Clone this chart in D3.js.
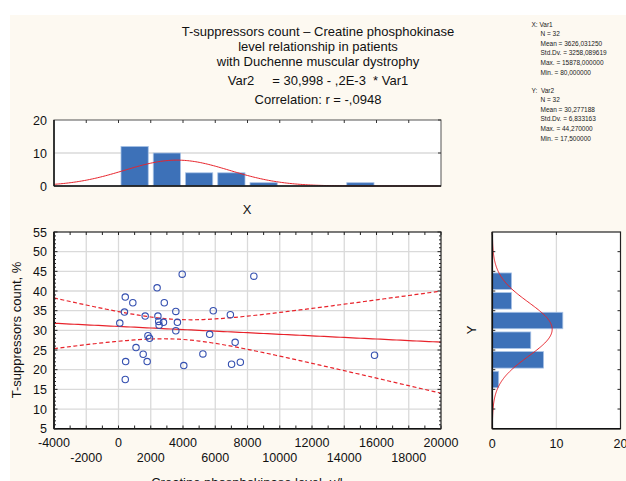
<!DOCTYPE html>
<html>
<head>
<meta charset="utf-8">
<script src="https://cdn.jsdelivr.net/npm/d3@7"></script>
<style>
  html, body { margin: 0; padding: 0; background: #ffffff; }
  svg { display: block; font-family: "Liberation Sans", Arial, sans-serif; }
</style>
</head>
<body>
<svg id="chart" width="626" height="481"></svg>
<script>
// Creatine phosphokinase level (u/l) per patient
const cpk = [3950, 8394, 2394, 419, 888, 2839, 370, 1654, 2444, 3555, 5876, 6937,
             80, 2493, 2518, 2789, 3653, 3555, 5654, 1827, 1926, 7234, 1086, 1530,
             5234, 444, 1777, 7555, 7012, 4049, 15878, 419];
// T-suppressors count, % per patient
const tsup = [44.27, 43.77, 40.81, 38.45, 37.01, 37.01, 34.65, 33.63, 33.63, 34.81, 34.98, 33.97,
              31.86, 32.28, 31.27, 32.03, 32.03, 29.9, 28.99, 28.65, 27.97, 26.96, 25.61, 23.92,
              24.0, 22.06, 22.06, 21.89, 21.38, 21.05, 23.67, 17.5];

const titleLines = [
  "T-suppressors count \u2013 Creatine phosphokinase",
  "level relationship in patients",
  "with Duchenne muscular dystrophy",
  "Var2     = 30,998 - ,2E-3  * Var1",
  "Correlation: r = -,0948"
];
const statsX = ["X: Var1", "N = 32", "Mean = 3626,031250", "Std.Dv. = 3258,089619", "Max. = 15878,000000", "Min. = 80,000000"];
const statsY = ["Y:  Var2", "N = 32", "Mean = 30,277188", "Std.Dv. = 6,833163", "Max. = 44,270000", "Min. = 17,500000"];

// regression summary
const nObs = 32, meanX = 3626.03125, sdX = 3258.089619, meanY = 30.277188, sdY = 6.833163, rCorr = -0.0948;
const intercept = 30.998, slope = -0.0002, tCrit = 2.042;

const xTicksRow1 = [-4000, 0, 4000, 8000, 12000, 16000, 20000];
const xTicksRow2 = [-2000, 2000, 6000, 10000, 14000, 18000];
const yTicks = [5, 10, 15, 20, 25, 30, 35, 40, 45, 50, 55];
const histXTicks = [0, 10, 20];
const histCountTicks = [0, 10, 20];

const svg = d3.select("#chart");
const RED = "#e8232b", BLUE = "#3d71b8", PT = "#3550b0", GRID = "#dadada";

svg.append("rect").attr("x", 10).attr("y", 15).attr("width", 616).attr("height", 466).attr("fill", "#fdf9f1");

// scales
const x = d3.scaleLinear().domain([-4000, 20000]).range([54, 441]);
const y = d3.scaleLinear().domain([5, 55]).range([428.7, 232]);
const yTop = d3.scaleLinear().domain([0, 20]).range([186, 120]);
const xRight = d3.scaleLinear().domain([0, 20]).range([492.3, 620.5]);

// ---------- title ----------
const titleY = [36, 51, 66, 85, 104];
svg.selectAll("text.title").data(titleLines).join("text")
  .attr("class", "title").attr("x", 318).attr("y", (d, i) => titleY[i])
  .attr("text-anchor", "middle").attr("font-size", 13).attr("fill", "#111")
  .attr("xml:space", "preserve").text(d => d);

function statsBlock(lines, y0) {
  lines.forEach((t, i) => {
    svg.append("text").attr("x", i === 0 ? 531.5 : 540.5).attr("y", y0 + i * 9.6)
      .attr("font-size", 6.5).attr("fill", "#1a1a1a").attr("xml:space", "preserve").text(t);
  });
}
statsBlock(statsX, 26.5);
statsBlock(statsY, 92.5);

// ---------- top histogram (X) ----------
svg.append("rect").attr("x", 54).attr("y", 120).attr("width", 387).attr("height", 66).attr("fill", "#fff");
svg.append("line").attr("x1", 54).attr("x2", 441).attr("y1", yTop(10)).attr("y2", yTop(10))
  .attr("stroke", GRID).attr("stroke-width", 1.6);
const binsX = d3.bin().domain([-4000, 20000]).thresholds(d3.range(-4000, 20000, 2000))(cpk);
svg.append("g").selectAll("rect").data(binsX.filter(b => b.length > 0)).join("rect")
  .attr("x", b => x(b.x0) + 2.5).attr("width", b => x(b.x1) - x(b.x0) - 5)
  .attr("y", b => yTop(b.length)).attr("height", b => yTop(0) - yTop(b.length))
  .attr("fill", BLUE).attr("stroke", "#a9c3e6").attr("stroke-width", 0.8);
const normX = v => nObs * 2000 * Math.exp(-0.5 * ((v - meanX) / sdX) ** 2) / (sdX * Math.sqrt(2 * Math.PI));
svg.append("path").datum(d3.range(-4000, 20001, 100))
  .attr("d", d3.line().x(v => x(v)).y(v => yTop(normX(v))))
  .attr("fill", "none").attr("stroke", RED).attr("stroke-width", 1);
// frame and ticks
svg.append("rect").attr("x", 54).attr("y", 120).attr("width", 387).attr("height", 66)
  .attr("fill", "none").attr("stroke", "#555").attr("stroke-width", 1);
svg.append("line").attr("x1", 54).attr("x2", 441).attr("y1", 186).attr("y2", 186).attr("stroke", "#111").attr("stroke-width", 1.5);
svg.append("line").attr("x1", 54).attr("x2", 54).attr("y1", 120).attr("y2", 186).attr("stroke", "#111").attr("stroke-width", 1.5);
svg.append("g").selectAll("line").data(d3.range(-2000, 20000, 2000)).join("line")
  .attr("x1", d => x(d)).attr("x2", d => x(d)).attr("y1", 120).attr("y2", 123).attr("stroke", "#333");
svg.append("g").selectAll("line").data(histCountTicks).join("line")
  .attr("x1", 438).attr("x2", 441).attr("y1", d => yTop(d)).attr("y2", d => yTop(d)).attr("stroke", "#333");
svg.append("g").selectAll("text").data(histCountTicks).join("text")
  .attr("x", 47).attr("y", d => yTop(d) + 4.5).attr("text-anchor", "end")
  .attr("font-size", 12.5).attr("fill", "#111").text(d => d);
svg.append("text").attr("x", 247).attr("y", 214).attr("text-anchor", "middle")
  .attr("font-size", 13).attr("fill", "#111").text("X");

// ---------- main scatter ----------
svg.append("rect").attr("x", 54).attr("y", 232).attr("width", 387).attr("height", 196.7).attr("fill", "#fff");
svg.append("g").selectAll("line").data(d3.range(-2000, 20000, 2000)).join("line")
  .attr("x1", d => x(d)).attr("x2", d => x(d)).attr("y1", 232).attr("y2", 428.7)
  .attr("stroke", GRID).attr("stroke-width", 1.3);
svg.append("g").selectAll("line").data(d3.range(10, 55, 5)).join("line")
  .attr("x1", 54).attr("x2", 441).attr("y1", d => y(d)).attr("y2", d => y(d))
  .attr("stroke", GRID).attr("stroke-width", 1.3);

// regression line and 95% confidence band
const sRes = sdY * Math.sqrt(1 - rCorr * rCorr) * Math.sqrt((nObs - 1) / (nObs - 2));
const sxx = (nObs - 1) * sdX * sdX;
const fit = v => intercept + slope * v;
const half = v => tCrit * sRes * Math.sqrt(1 / nObs + (v - meanX) ** 2 / sxx);
const xs = d3.range(-4000, 20001, 250);
svg.append("path").datum(xs).attr("d", d3.line().x(v => x(v)).y(v => y(fit(v))))
  .attr("fill", "none").attr("stroke", RED).attr("stroke-width", 1.2);
[1, -1].forEach(sgn => {
  svg.append("path").datum(xs).attr("d", d3.line().x(v => x(v)).y(v => y(fit(v) + sgn * half(v))))
    .attr("fill", "none").attr("stroke", RED).attr("stroke-width", 1.2).attr("stroke-dasharray", "4,2.5");
});

svg.append("g").selectAll("circle").data(cpk.map((v, i) => [v, tsup[i]])).join("circle")
  .attr("cx", d => x(d[0])).attr("cy", d => y(d[1])).attr("r", 3.2)
  .attr("fill", "none").attr("stroke", PT).attr("stroke-width", 1.1);

// frame
svg.append("rect").attr("x", 54).attr("y", 232).attr("width", 387).attr("height", 196.7)
  .attr("fill", "none").attr("stroke", "#222").attr("stroke-width", 1.2);
svg.append("line").attr("x1", 54).attr("x2", 441).attr("y1", 428.7).attr("y2", 428.7).attr("stroke", "#111").attr("stroke-width", 1.6);
svg.append("line").attr("x1", 54).attr("x2", 54).attr("y1", 232).attr("y2", 428.7).attr("stroke", "#111").attr("stroke-width", 1.6);
// tick marks (inward)
const xMinor = d3.range(-4000, 20001, 1000);
svg.append("g").selectAll("line").data(xMinor).join("line")
  .attr("x1", d => x(d)).attr("x2", d => x(d)).attr("y1", 428.7).attr("y2", 425.5).attr("stroke", "#222");
svg.append("g").selectAll("line").data(xMinor).join("line")
  .attr("x1", d => x(d)).attr("x2", d => x(d)).attr("y1", 232).attr("y2", 235).attr("stroke", "#222");
const yMinor = d3.range(5, 56, 1);
svg.append("g").selectAll("line").data(yMinor).join("line")
  .attr("x1", 441).attr("x2", d => d % 5 === 0 ? 437.5 : 439).attr("y1", d => y(d)).attr("y2", d => y(d)).attr("stroke", "#222");
svg.append("g").selectAll("line").data(yMinor).join("line")
  .attr("x1", 54).attr("x2", d => d % 5 === 0 ? 57.5 : 56).attr("y1", d => y(d)).attr("y2", d => y(d)).attr("stroke", "#222");

svg.append("g").selectAll("text").data(yTicks).join("text")
  .attr("x", 47).attr("y", d => y(d) + 4.5).attr("text-anchor", "end")
  .attr("font-size", 12.5).attr("fill", "#111").text(d => d);
svg.append("g").selectAll("text").data(xTicksRow1).join("text")
  .attr("x", d => x(d)).attr("y", 447.3).attr("text-anchor", "middle")
  .attr("font-size", 12.5).attr("fill", "#111").text(d => d);
svg.append("g").selectAll("text").data(xTicksRow2).join("text")
  .attr("x", d => x(d)).attr("y", 462.3).attr("text-anchor", "middle")
  .attr("font-size", 12.5).attr("fill", "#111").text(d => d);
svg.append("text").attr("x", 247).attr("y", 486.5).attr("text-anchor", "middle")
  .attr("font-size", 13).attr("fill", "#111").text("Creatine phosphokinase level, u/l");
svg.append("text").attr("transform", "translate(21,330) rotate(-90)").attr("text-anchor", "middle")
  .attr("font-size", 13).attr("fill", "#111").text("T-suppressors count, %");

// ---------- right histogram (Y) ----------
svg.append("rect").attr("x", 492.3).attr("y", 232).attr("width", 128.2).attr("height", 196.7).attr("fill", "#fff");
svg.append("line").attr("x1", xRight(10)).attr("x2", xRight(10)).attr("y1", 232).attr("y2", 428.7)
  .attr("stroke", GRID).attr("stroke-width", 1.3);
const binsY = d3.bin().domain([5, 55]).thresholds(d3.range(5, 55, 5))(tsup);
svg.append("g").selectAll("rect").data(binsY.filter(b => b.length > 0)).join("rect")
  .attr("x", xRight(0)).attr("width", b => xRight(b.length) - xRight(0))
  .attr("y", b => y(b.x1) + 1.6).attr("height", b => y(b.x0) - y(b.x1) - 3.2)
  .attr("fill", BLUE).attr("stroke", "#a9c3e6").attr("stroke-width", 0.8);
const normY = v => nObs * 5 * Math.exp(-0.5 * ((v - meanY) / sdY) ** 2) / (sdY * Math.sqrt(2 * Math.PI));
svg.append("path").datum(d3.range(5, 55.01, 0.25))
  .attr("d", d3.line().x(v => xRight(normY(v))).y(v => y(v)))
  .attr("fill", "none").attr("stroke", RED).attr("stroke-width", 1);
svg.append("rect").attr("x", 492.3).attr("y", 232).attr("width", 128.2).attr("height", 196.7)
  .attr("fill", "none").attr("stroke", "#222").attr("stroke-width", 1.2);
svg.append("line").attr("x1", 492.3).attr("x2", 492.3).attr("y1", 232).attr("y2", 428.7).attr("stroke", "#111").attr("stroke-width", 1.6);
svg.append("line").attr("x1", 492.3).attr("x2", 620.5).attr("y1", 428.7).attr("y2", 428.7).attr("stroke", "#111").attr("stroke-width", 1.6);
svg.append("g").selectAll("line").data(d3.range(10, 55, 5)).join("line")
  .attr("x1", 492.3).attr("x2", 495.3).attr("y1", d => y(d)).attr("y2", d => y(d)).attr("stroke", "#222");
svg.append("g").selectAll("line").data(d3.range(10, 55, 5)).join("line")
  .attr("x1", 620.5).attr("x2", 617.5).attr("y1", d => y(d)).attr("y2", d => y(d)).attr("stroke", "#222");
svg.append("g").selectAll("line").data(histXTicks).join("line")
  .attr("x1", d => xRight(d)).attr("x2", d => xRight(d)).attr("y1", 232).attr("y2", 235).attr("stroke", "#222");
svg.append("g").selectAll("text").data(histXTicks).join("text")
  .attr("x", d => xRight(d)).attr("y", 448).attr("text-anchor", "middle")
  .attr("font-size", 12.5).attr("fill", "#111").text(d => d);
svg.append("text").attr("transform", "translate(476,330) rotate(-90)").attr("text-anchor", "middle")
  .attr("font-size", 13).attr("fill", "#111").text("Y");
</script>
</body>
</html>
